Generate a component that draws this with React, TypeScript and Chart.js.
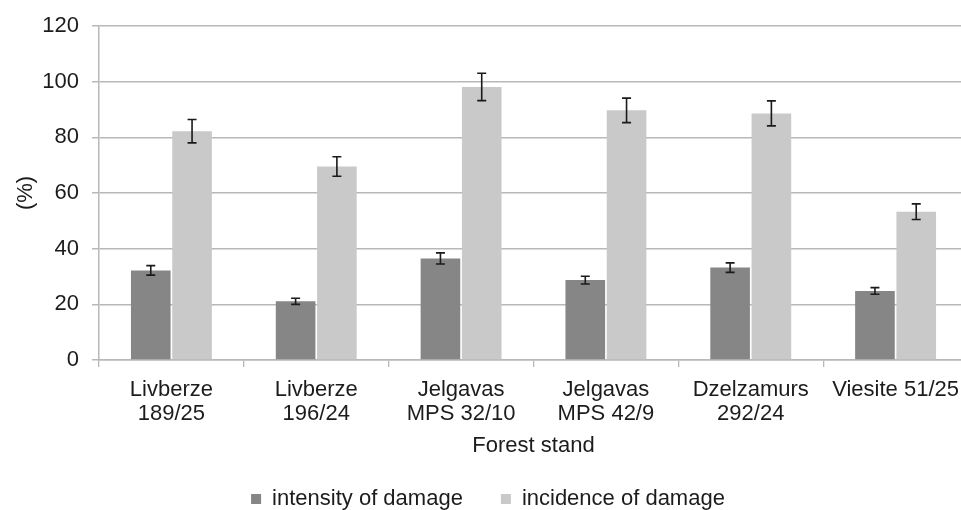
import React, { useEffect, useRef } from "react";
import { Chart, registerables } from "chart.js";

Chart.register(...registerables);

// Forest stands (multi-line category labels)
const stands: string[][] = [
  ["Livberze", "189/25"],
  ["Livberze", "196/24"],
  ["Jelgavas", "MPS 32/10"],
  ["Jelgavas", "MPS 42/9"],
  ["Dzelzamurs", "292/24"],
  ["Viesite 51/25"],
];

// Mean values (%) and their error half-widths
const intensity = [32.2, 21.1, 36.5, 28.7, 33.2, 24.8];
const intensityErr = [1.7, 1.1, 2.0, 1.4, 1.7, 1.2];
const incidence = [82.2, 69.5, 98.1, 89.7, 88.6, 53.3];
const incidenceErr = [4.2, 3.5, 4.9, 4.4, 4.5, 2.8];

const seriesNames = ["intensity of damage", "incidence of damage"];
const yTicks = { min: 0, max: 120, step: 20 };

const FONT = "'Liberation Sans', Arial, Helvetica, sans-serif";
const TEXT = "#1c1c1c";
const GRID = "#b8b8b8";

// Draws vertical whiskers with caps on top of every bar
const errorBars = {
  id: "errorBars",
  afterDatasetsDraw(chart: any) {
    const { ctx } = chart;
    const y = chart.scales.y;
    const errs = [intensityErr, incidenceErr];
    ctx.save();
    ctx.strokeStyle = "#1a1a1a";
    ctx.lineWidth = 1.6;
    chart.data.datasets.forEach((ds: any, di: number) => {
      const meta = chart.getDatasetMeta(di);
      meta.data.forEach((bar: any, i: number) => {
        const v = ds.data[i];
        const e = errs[di][i];
        const top = y.getPixelForValue(v + e);
        const bot = y.getPixelForValue(v - e);
        const x = bar.x;
        const cap = 4.5;
        ctx.beginPath();
        ctx.moveTo(x, top);
        ctx.lineTo(x, bot);
        ctx.moveTo(x - cap, top);
        ctx.lineTo(x + cap, top);
        ctx.moveTo(x - cap, bot);
        ctx.lineTo(x + cap, bot);
        ctx.stroke();
      });
    });
    ctx.restore();
  },
};

export default function App() {
  const ref = useRef<HTMLCanvasElement | null>(null);

  useEffect(() => {
    if (!ref.current) return;
    const chart = new Chart(ref.current, {
      type: "bar",
      data: {
        labels: stands,
        datasets: [
          {
            label: seriesNames[0],
            data: intensity,
            backgroundColor: "#868686",
            borderWidth: 0,
            categoryPercentage: 0.57,
            barPercentage: 0.96,
          },
          {
            label: seriesNames[1],
            data: incidence,
            backgroundColor: "#c9c9c9",
            borderWidth: 0,
            categoryPercentage: 0.57,
            barPercentage: 0.96,
          },
        ],
      },
      options: {
        responsive: false,
        animation: false,
        devicePixelRatio: 1,
        layout: { padding: { top: 18, right: 6, left: 0, bottom: 0 } },
        plugins: {
          tooltip: { enabled: false },
          legend: {
            position: "bottom",
            labels: {
              boxWidth: 10,
              boxHeight: 10,
              padding: 38,
              color: TEXT,
              font: { family: FONT, size: 22 },
            },
          },
        },
        scales: {
          x: {
            grid: {
              display: true,
              drawOnChartArea: false,
              drawTicks: true,
              tickLength: 7,
              color: GRID,
              lineWidth: 1.3,
            },
            border: { display: true, color: GRID, width: 1.5 },
            ticks: {
              color: TEXT,
              padding: 10.5,
              maxRotation: 0,
              autoSkip: false,
              font: { family: FONT, size: 22, lineHeight: 1.11 },
            },
            title: {
              display: true,
              text: "Forest stand",
              color: TEXT,
              font: { family: FONT, size: 22, lineHeight: 1 },
              padding: { top: 0, bottom: -6.5 },
            },
            afterFit(scale: any) {
              scale.height = 90;
            },
          },
          y: {
            min: yTicks.min,
            max: yTicks.max,
            grid: {
              color: GRID,
              lineWidth: 1.5,
              tickLength: 7,
            },
            border: { display: true, color: GRID, width: 1.5 },
            ticks: {
              stepSize: yTicks.step,
              color: TEXT,
              padding: 13,
              font: { family: FONT, size: 22 },
            },
            title: {
              display: true,
              text: "(%)",
              color: TEXT,
              font: { family: FONT, size: 22, lineHeight: 1 },
              padding: { top: 7, bottom: 0 },
            },
            afterFit(scale: any) {
              scale.width = 91;
              scale.paddingTop = 0;
              scale.paddingBottom = 0;
            },
          },
        },
      },
      plugins: [errorBars],
    });
    return () => chart.destroy();
  }, []);

  return (
    <div
      style={{
        position: "absolute",
        left: 0,
        top: 0,
        width: 961,
        height: 510,
        overflow: "hidden",
      }}
    >
      <canvas
        ref={ref}
        width={966}
        height={512}
        style={{ position: "absolute", left: 8, top: 8, width: 966, height: 512 }}
      />
    </div>
  );
}
